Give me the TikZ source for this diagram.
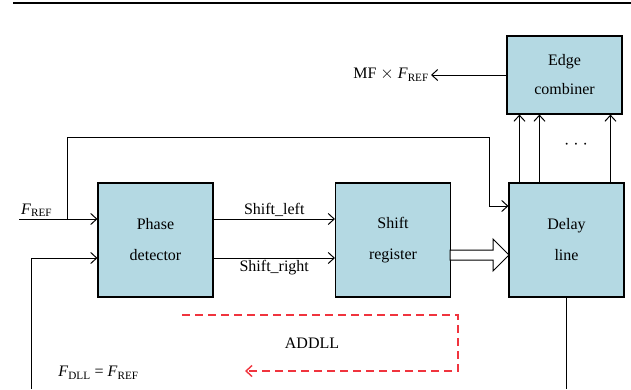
\documentclass[tikz,border=0pt]{standalone}
\usepackage{fontspec}
\setmainfont{Liberation Serif}
\usetikzlibrary{arrows.meta, calc}
\definecolor{blockblue}{RGB}{180,217,227}
\definecolor{addllred}{RGB}{240,52,62}

\newcommand{\fref}{\textit{F}\textsubscript{REF}}

\begin{document}
\begin{tikzpicture}[x=1pt, y=-1pt,
    block/.style={draw, fill=blockblue, line width=1.1pt, minimum width=115pt, minimum height=114pt, align=center, font=\fontsize{16}{31}\selectfont, inner sep=0pt},
    wire/.style={line width=1pt},
    arr/.style={wire, -{Straight Barb[length=6pt, width=11pt]}},
    lbl/.style={font=\fontsize{16}{19}\selectfont, inner sep=2pt}]
  \useasboundingbox (0,0) rectangle (631,389);

  % top rule
  \coordinate (rl) at (13,3);
  \coordinate (rr) at (631,3);
  \draw[line width=1.2pt] (rl) -- (rr);

  % blocks
  \node[block] (pd) at (155.5,240) {Phase\\detector};
  \node[block] (sr) at (393,240) {Shift\\register};
  \node[block] (dl) at (566.5,240) {Delay\\line};
  \node[block, minimum height=78pt, font=\fontsize{16}{29}\selectfont] (ec) at (564.5,75) {Edge\\combiner};

  \coordinate (fin) at (19,219);
  \coordinate (br) at (67,219);
  \coordinate (tr) at (489,137);
  \coordinate (dlin) at (489,206);
  \coordinate (fbl) at (31,389);
  \coordinate (pdin) at (31,258);
  \coordinate (dlb) at (566.5,389);

  % reference input and feed-forward
  \draw[arr] (fin) -- (fin -| pd.west);
  \node[lbl, anchor=south west] (frefl) at (fin) {\fref};
  \draw[arr] (br) |- (tr) -- (dlin) -- (dlin -| dl.west);

  % feedback
  \draw[arr] (fbl) -- (pdin) -- (pdin -| pd.west);
  \draw[wire] (dl.south) -- (dlb);

  \draw[arr] (pd.east |- fin) -- (sr.west |- fin) node[lbl, midway, above] (sl) {Shift\_left};
  \draw[arr] (pd.east |- pdin) -- (sr.west |- pdin) node[lbl, midway, below] (srt) {Shift\_right};

  % bus
  \draw[wire, fill=white] (450,250) -- (493,250) -- (493,239) -- (509,255) -- (493,271) -- (493,260) -- (450,260) -- cycle;

  \foreach \dx [count=\i] in {11,31,102} {
    \coordinate (up\i) at ($(dl.north west)+(\dx,0)$);
    \draw[arr] (up\i) -- (up\i |- ec.south);
  }
  \node[lbl] (dots) at (576,146) {· · ·};

  \node[lbl, anchor=east] (mf) at (431,75) {MF $\times$ \fref};
  \draw[arr] (ec.west) -- (mf.east);

  % ADDLL loop
  \coordinate (ra) at (182,315);
  \coordinate (rb) at (458,315);
  \coordinate (rc) at (458,371);
  \coordinate (rd) at (245,371);
  \draw[addllred, line width=1.4pt, dash pattern=on 8pt off 5pt, -{Straight Barb[length=6pt, width=11pt]}] (ra) -- (rb) -- (rc) -- (rd);
  \node[lbl] (addll) at (312,343) {ADDLL};
  \node[lbl] (fdll) at (98.5,373) {\textit{F}\textsubscript{DLL} = \fref};
\end{tikzpicture}
\end{document}
